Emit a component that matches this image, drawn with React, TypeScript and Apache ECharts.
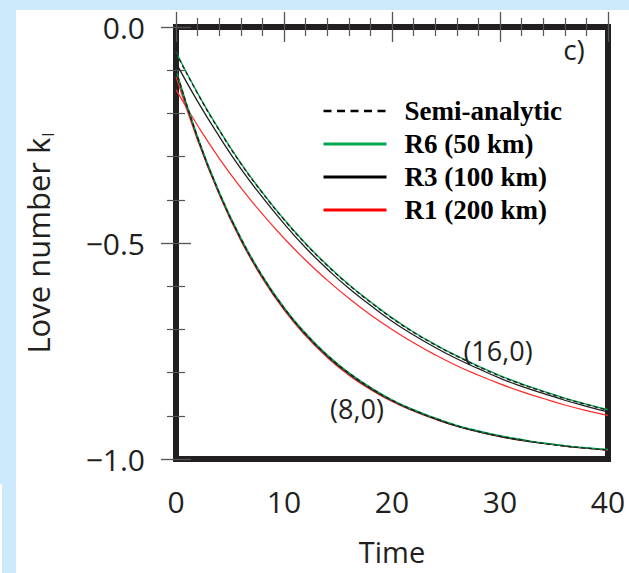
import React, { useEffect, useRef } from "react";
import * as echarts from "echarts";

// Time samples
const times = [0, 2, 4, 6, 8, 10, 12, 14, 16, 18, 20, 22, 24, 26, 28, 30, 32, 34, 36, 38, 40];

// (16,0) mode
const semi16 = [-0.060, -0.154, -0.239, -0.316, -0.384, -0.446, -0.502, -0.552, -0.597, -0.637, -0.674, -0.707, -0.736, -0.762, -0.786, -0.808, -0.827, -0.844, -0.860, -0.874, -0.887];
const r6_16 = [-0.058, -0.153, -0.238, -0.315, -0.383, -0.445, -0.501, -0.551, -0.596, -0.636, -0.673, -0.706, -0.735, -0.761, -0.785, -0.807, -0.826, -0.843, -0.859, -0.873, -0.886];
const r3_16 = [-0.083, -0.172, -0.253, -0.328, -0.394, -0.455, -0.511, -0.560, -0.605, -0.644, -0.681, -0.713, -0.742, -0.768, -0.791, -0.813, -0.832, -0.848, -0.864, -0.878, -0.891];
const r1_16 = [-0.145, -0.228, -0.304, -0.372, -0.433, -0.489, -0.540, -0.586, -0.628, -0.666, -0.700, -0.731, -0.759, -0.784, -0.806, -0.826, -0.844, -0.860, -0.875, -0.888, -0.899];

// (8,0) mode
const semi8 = [-0.100, -0.255, -0.383, -0.489, -0.577, -0.650, -0.710, -0.760, -0.801, -0.835, -0.864, -0.887, -0.906, -0.923, -0.936, -0.947, -0.956, -0.964, -0.970, -0.975, -0.979];
const r6_8 = [-0.099, -0.254, -0.382, -0.488, -0.576, -0.649, -0.709, -0.759, -0.800, -0.834, -0.863, -0.886, -0.905, -0.922, -0.935, -0.946, -0.955, -0.963, -0.969, -0.974, -0.978];
const r3_8 = [-0.104, -0.258, -0.385, -0.491, -0.579, -0.652, -0.712, -0.762, -0.803, -0.837, -0.865, -0.888, -0.907, -0.924, -0.937, -0.948, -0.957, -0.964, -0.970, -0.975, -0.979];
const r1_8 = [-0.115, -0.262, -0.388, -0.494, -0.582, -0.655, -0.715, -0.765, -0.806, -0.839, -0.867, -0.889, -0.908, -0.924, -0.937, -0.948, -0.957, -0.964, -0.970, -0.975, -0.980];

const legendNames = ["Semi-analytic", "R6 (50 km)", "R3 (100 km)", "R1 (200 km)"];
const xTickLabels = [0, 10, 20, 30, 40];
const yTickLabels = [0, -0.5, -1.0];

const INK = "#231f20";
const GREEN = "#00a651";
const RED = "#ff2a2a";
const TICK = "#555555";
const SANS = "'Open Sans', sans-serif";
const SERIF = "'Liberation Serif', 'Times New Roman', serif";

const toPairs = (arr: number[]) => times.map((t, i) => [t, arr[i]]);

export default function App() {
  const ref = useRef<HTMLDivElement>(null);

  useEffect(() => {
    if (!ref.current) return;
    const chart = echarts.init(ref.current, undefined, { renderer: "svg" });

    const xMin = xTickLabels[0];
    const xMax = xTickLabels[xTickLabels.length - 1];
    const yMax = yTickLabels[0];
    const yMin = yTickLabels[yTickLabels.length - 1];

    const tickCommon = {
      axisLine: { show: false },
      splitLine: { show: false },
      minorSplitLine: { show: false },
      axisTick: { show: true, inside: false, length: 15, lineStyle: { color: TICK, width: 1.3 } },
      minorTick: { show: true, splitNumber: 5, length: 9, lineStyle: { color: TICK, width: 1.2 } },
    };

    const lineSeries = (name: string, arr: number[], color: string, width: number, type: any, z: number) => ({
      type: "line",
      name,
      data: toPairs(arr),
      symbol: "none",
      smooth: 0.5,
      lineStyle: { color, width, type },
      itemStyle: { color },
      z,
      silent: true,
    });

    const hiddenSymbol = { color: "transparent", borderColor: "transparent", borderWidth: 0, opacity: 0 };

    chart.setOption({
      animation: false,
      backgroundColor: "#cdeafd",
      grid: {
        left: 176,
        top: 27,
        width: 432,
        height: 432,
        show: true,
        borderColor: INK,
        borderWidth: 6,
        backgroundColor: "#ffffff",
        containLabel: false,
        outerBoundsMode: "none",
      },
      xAxis: [
        {
          type: "value",
          position: "bottom",
          min: xMin,
          max: xMax,
          interval: 10,
          ...tickCommon,
          axisLabel: { show: true, margin: 27, fontFamily: SANS, fontSize: 30, color: INK },
          name: "Time",
          nameLocation: "middle",
          nameGap: 78,
          nameTextStyle: { fontFamily: SANS, fontSize: 29, color: INK, lineHeight: 29 },
        },
        {
          type: "value",
          position: "top",
          min: xMin,
          max: xMax,
          interval: 10,
          ...tickCommon,
          axisLabel: { show: false },
        },
      ],
      yAxis: [
        {
          type: "value",
          position: "left",
          min: yMin,
          max: yMax,
          interval: 0.5,
          ...tickCommon,
          axisLabel: {
            show: true,
            margin: 31,
            fontFamily: SANS,
            fontSize: 30,
            color: INK,
            formatter: (v: number) => (v === 0 ? "0.0" : "\u2212" + Math.abs(v).toFixed(1)),
          },
          name: "{m|Love number k}{s|l}",
          nameLocation: "middle",
          nameGap: 120,
          nameRotate: 90,
          nameTextStyle: {
            rich: {
              m: { fontFamily: SANS, fontSize: 31, color: INK, lineHeight: 36 },
              s: { fontFamily: SANS, fontSize: 17, color: INK, lineHeight: 17, padding: [24, 0, 0, 1], verticalAlign: "bottom" },
            },
          },
        },
        {
          type: "value",
          position: "right",
          min: yMin,
          max: yMax,
          interval: 0.5,
          ...tickCommon,
          axisLabel: { show: false },
        },
      ],
      legend: {
        show: true,
        orient: "vertical",
        left: 317,
        top: 91,
        padding: 5,
        itemWidth: 63,
        itemHeight: 30,
        itemGap: 3,
        selectedMode: false,
        itemStyle: hiddenSymbol,
        textStyle: { fontFamily: SERIF, fontWeight: "bold", fontSize: 27, color: "#000", lineHeight: 30, padding: [0, 0, 0, 13] },
        data: [
          { name: legendNames[0], itemStyle: hiddenSymbol, lineStyle: { color: "#000", width: 2.5, type: [8, 5.5] } },
          { name: legendNames[1], itemStyle: hiddenSymbol, lineStyle: { color: GREEN, width: 3, type: "solid" } },
          { name: legendNames[2], itemStyle: hiddenSymbol, lineStyle: { color: "#000", width: 3, type: "solid" } },
          { name: legendNames[3], itemStyle: hiddenSymbol, lineStyle: { color: "#ff0000", width: 3, type: "solid" } },
        ],
      },
      graphic: [
        { type: "rect", z: -100, silent: true, shape: { x: 16, y: 10, width: 613, height: 563 }, style: { fill: "#ffffff" } },
        { type: "rect", z: -100, silent: true, shape: { x: 0, y: 484, width: 2, height: 89 }, style: { fill: "#ffffff" } },
        { type: "text", z: 100, x: 574, y: 49, style: { text: "c)", fontFamily: SANS, fontSize: 28, fill: INK, align: "center", verticalAlign: "middle" } },
        { type: "text", z: 100, x: 498, y: 350, style: { text: "(16,0)", fontFamily: SANS, fontSize: 27, fill: INK, align: "center", verticalAlign: "middle" } },
        { type: "text", z: 100, x: 357, y: 408, style: { text: "(8,0)", fontFamily: SANS, fontSize: 27, fill: INK, align: "center", verticalAlign: "middle" } },
      ],
      series: [
        lineSeries(legendNames[3], r1_16, RED, 1.2, "solid", 2),
        lineSeries(legendNames[3], r1_8, RED, 1.2, "solid", 2),
        lineSeries(legendNames[2], r3_16, INK, 1.3, "solid", 3),
        lineSeries(legendNames[2], r3_8, INK, 1.3, "solid", 3),
        lineSeries(legendNames[1], r6_16, GREEN, 1.4, "solid", 4),
        lineSeries(legendNames[1], r6_8, GREEN, 1.4, "solid", 4),
        lineSeries(legendNames[0], semi16, INK, 1.3, [4, 3], 5),
        lineSeries(legendNames[0], semi8, INK, 1.3, [4, 3], 5),
      ],
    });

    return () => chart.dispose();
  }, []);

  return <div ref={ref} style={{ position: "fixed", left: 0, top: 0, width: 629, height: 573 }} />;
}
